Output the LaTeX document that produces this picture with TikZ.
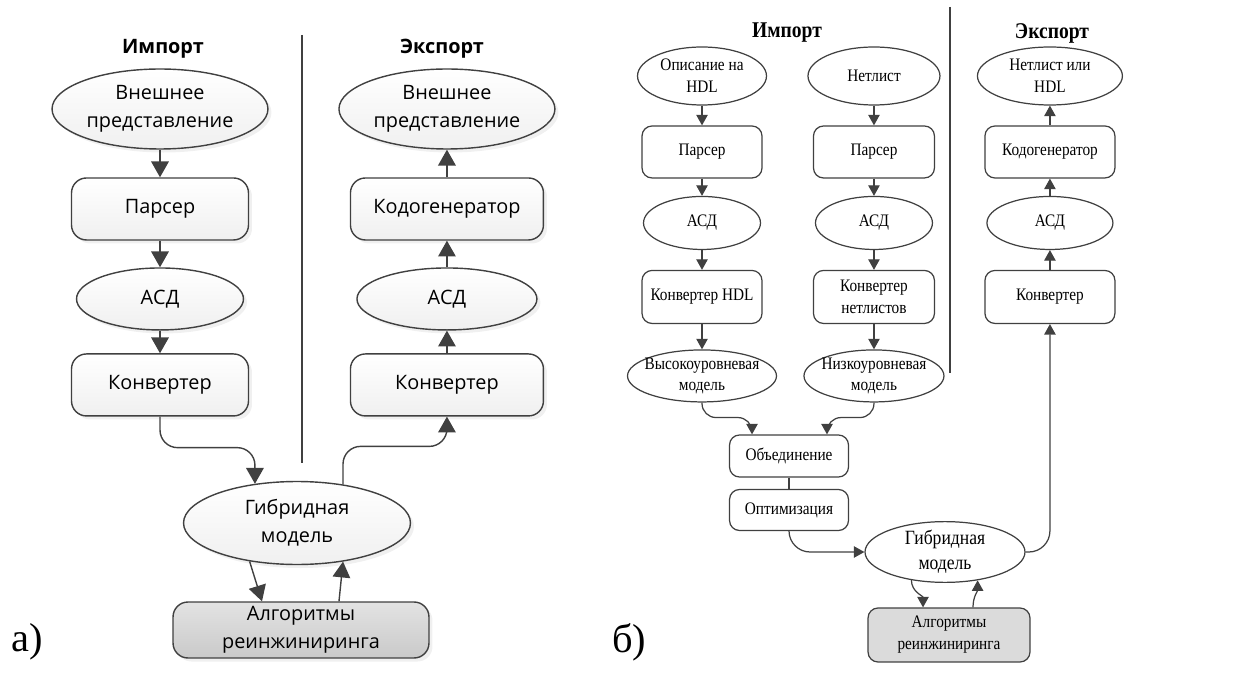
\documentclass[tikz,border=0pt]{standalone}
\usepackage{fontspec}
\setmainfont{Liberation Serif}
\newfontfamily\sansfnt{Open Sans}
\newfontfamily\narrowfnt[FakeStretch=0.87]{Liberation Serif}
\usetikzlibrary{shapes.geometric,arrows.meta,shadows}
\definecolor{edge}{HTML}{404040}

\begin{document}
\begin{tikzpicture}[x=0.02cm,y=-0.02cm]
  \tikzstyle{aNode}=[draw=edge,line width=0.8pt,inner sep=0pt,align=center,
    top color=white,bottom color=gray!12,
    drop shadow={opacity=0.12,shadow xshift=2pt,shadow yshift=-2pt},
    font=\sansfnt\fontsize{11.3}{15.9}\selectfont]
  \tikzstyle{aEll}=[aNode,ellipse]
  \tikzstyle{aBox}=[aNode,rectangle,rounded corners=8.5pt]
  \tikzstyle{aArr}=[draw=edge,line width=0.8pt,-{Triangle[width=10pt,length=9pt]}]
  \tikzstyle{bNode}=[draw=edge,line width=0.7pt,inner sep=0pt,align=center,fill=white,
    font=\narrowfnt\fontsize{10}{12.5}\selectfont]
  \tikzstyle{bEll}=[bNode,ellipse]
  \tikzstyle{bBox}=[bNode,rectangle,rounded corners=5.7pt]
  \tikzstyle{bArr}=[draw=edge,line width=0.7pt,-{Triangle[width=6.5pt,length=6pt]}]
  \useasboundingbox (0,0) rectangle (1257,675);

  % ---- a) ----
  \node[font=\sansfnt\bfseries\fontsize{11.3}{14}\selectfont] (aimp) at (163,49) {Импорт};
  \node[font=\sansfnt\bfseries\fontsize{11.3}{14}\selectfont] (aexp) at (442,49) {Экспорт};
  \draw[edge,line width=0.8pt] (302,35) -- (302,463);

  \node[aEll, minimum width=4.32cm, minimum height=1.6cm] (ai1) at (160,109) {Внешнее\\представление};
  \node[aBox, minimum width=3.54cm, minimum height=1.24cm, below of=ai1, node distance=2cm] (ai2) {Парсер};
  \node[aEll, minimum width=3.34cm, minimum height=1.24cm, below of=ai2, node distance=1.8cm] (ai3) {АСД};
  \node[aBox, minimum width=3.54cm, minimum height=1.24cm, below of=ai3, node distance=1.72cm] (ai4) {Конвертер};

  \node[aEll, minimum width=4.32cm, minimum height=1.6cm, right of=ai1, node distance=5.74cm] (ae1) {Внешнее\\представление};
  \node[aBox, minimum width=3.86cm, minimum height=1.24cm, right of=ai2, node distance=5.74cm] (ae2) {Кодогенератор};
  \node[aEll, minimum width=3.6cm, minimum height=1.24cm, right of=ai3, node distance=5.74cm] (ae3) {АСД};
  \node[aBox, minimum width=3.86cm, minimum height=1.24cm, right of=ai4, node distance=5.74cm] (ae4) {Конвертер};

  \node[aEll, minimum width=4.54cm, minimum height=1.66cm] (ahyb) at (297,523) {Гибридная\\модель};
  \node[aBox, minimum width=5.12cm, minimum height=1.12cm, top color=gray!22, bottom color=gray!42] (aalg) at (301,630) {Алгоритмы\\реинжиниринга};

  \node[font=\fontsize{23}{26}\selectfont] (alab) at (27,642) {а)};

  % edges
  \draw[aArr] (ai1) -- (ai2);
  \draw[aArr] (ai2) -- (ai3);
  \draw[aArr] (ai3) -- (ai4);
  \draw[aArr, rounded corners=10pt] (ai4.south) -- ++(0,31) -| (ahyb.137);
  \draw[aArr] (ae4) -- (ae3);
  \draw[aArr] (ae3) -- (ae2);
  \draw[aArr] (ae2) -- (ae1);
  \draw[aArr, rounded corners=10pt] (ahyb.40) -- ++(0,-38) -| (ae4.south);
  \draw[aArr] (ahyb.219) -- ([xshift=-0.78cm]aalg.north);
  \draw[aArr] ([xshift=0.76cm]aalg.north) -- (ahyb.320);

  % ---- b) ----
  \node[font=\narrowfnt\bfseries\fontsize{12.8}{15}\selectfont] (bimp) at (787,33) {Импорт};
  \node[font=\narrowfnt\bfseries\fontsize{12.8}{15}\selectfont] (bexp) at (1052,33) {Экспорт};
  \draw[edge,line width=0.8pt] (950,7) -- (950,373);

  \node[bEll, minimum width=2.58cm, minimum height=1.16cm] (bh1) at (702,76) {Описание на\\HDL};
  \node[bBox, minimum width=2.4cm, minimum height=1.04cm, below of=bh1, node distance=1.52cm] (bh2) {Парсер};
  \node[bEll, minimum width=2.34cm, minimum height=1.06cm, below of=bh2, node distance=1.42cm] (bh3) {АСД};
  \node[bBox, minimum width=2.4cm, minimum height=1.06cm, below of=bh3, node distance=1.48cm] (bh4) {Конвертер HDL};
  \node[bEll, minimum width=2.98cm, minimum height=1.04cm, inner sep=-3pt, below of=bh4, node distance=1.58cm] (bh5) {Высокоуровневая\\модель};

  \node[bEll, minimum width=2.64cm, minimum height=1.16cm, right of=bh1, node distance=3.44cm] (bn1) {Нетлист};
  \node[bBox, minimum width=2.42cm, minimum height=1.04cm, right of=bh2, node distance=3.44cm] (bn2) {Парсер};
  \node[bEll, minimum width=2.34cm, minimum height=1.06cm, right of=bh3, node distance=3.44cm] (bn3) {АСД};
  \node[bBox, minimum width=2.42cm, minimum height=1.06cm, right of=bh4, node distance=3.44cm] (bn4) {Конвертер\\нетлистов};
  \node[bEll, minimum width=2.8cm, minimum height=1.04cm, inner sep=-3pt, right of=bh5, node distance=3.44cm] (bn5) {Низкоуровневая\\модель};

  \node[bEll, minimum width=2.9cm, minimum height=1.16cm, right of=bn1, node distance=3.52cm] (be1) {Нетлист или\\HDL};
  \node[bBox, minimum width=2.6cm, minimum height=1.04cm, right of=bn2, node distance=3.52cm] (be2) {Кодогенератор};
  \node[bEll, minimum width=2.52cm, minimum height=1.06cm, right of=bn3, node distance=3.52cm] (be3) {АСД};
  \node[bBox, minimum width=2.6cm, minimum height=1.06cm, right of=bn4, node distance=3.52cm] (be4) {Конвертер};

  \node[bBox, minimum width=2.38cm, minimum height=0.84cm] (bmrg) at (789,456) {Объединение};
  \node[bBox, minimum width=2.38cm, minimum height=0.82cm, below of=bmrg, node distance=1.08cm] (bopt) {Оптимизация};
  \node[bEll, minimum width=3.2cm, minimum height=1.2cm, font=\narrowfnt\fontsize{11.5}{14}\selectfont] (bhyb) at (945,552) {Гибридная\\модель};
  \node[bBox, minimum width=3.24cm, minimum height=1.08cm, fill=gray!28] (balg) at (949,635) {Алгоритмы\\реинжиниринга};

  \node[font=\fontsize{23}{26}\selectfont] (blab) at (629,642) {б)};

  % edges
  \draw[bArr] (bh1) -- (bh2);
  \draw[bArr] (bh2) -- (bh3);
  \draw[bArr] (bh3) -- (bh4);
  \draw[bArr] (bh4) -- (bh5);
  \draw[bArr] (bn1) -- (bn2);
  \draw[bArr] (bn2) -- (bn3);
  \draw[bArr] (bn3) -- (bn4);
  \draw[bArr] (bn4) -- (bn5);
  \draw[bArr] (be4) -- (be3);
  \draw[bArr] (be3) -- (be2);
  \draw[bArr] (be2) -- (be1);
  \draw[bArr, rounded corners=8pt] (bh5.south) -- ++(0,15) -| ([xshift=-0.74cm]bmrg.north);
  \draw[bArr, rounded corners=8pt] (bn5.south) -- ++(0,15) -| ([xshift=0.76cm]bmrg.north);
  \draw[draw=edge,line width=0.7pt] (bmrg) -- (bopt);
  \draw[bArr, rounded corners=12pt] (bopt.south) |- (bhyb.west);
  \draw[bArr, rounded corners=12pt] (bhyb.east) -| (be4.south);
  \draw[bArr] (bhyb.220) to[out=-90,in=90] ([xshift=-0.52cm]balg.north);
  \draw[bArr] ([xshift=0.48cm]balg.north) to[out=90,in=-90] (bhyb.319);
\end{tikzpicture}
\end{document}
